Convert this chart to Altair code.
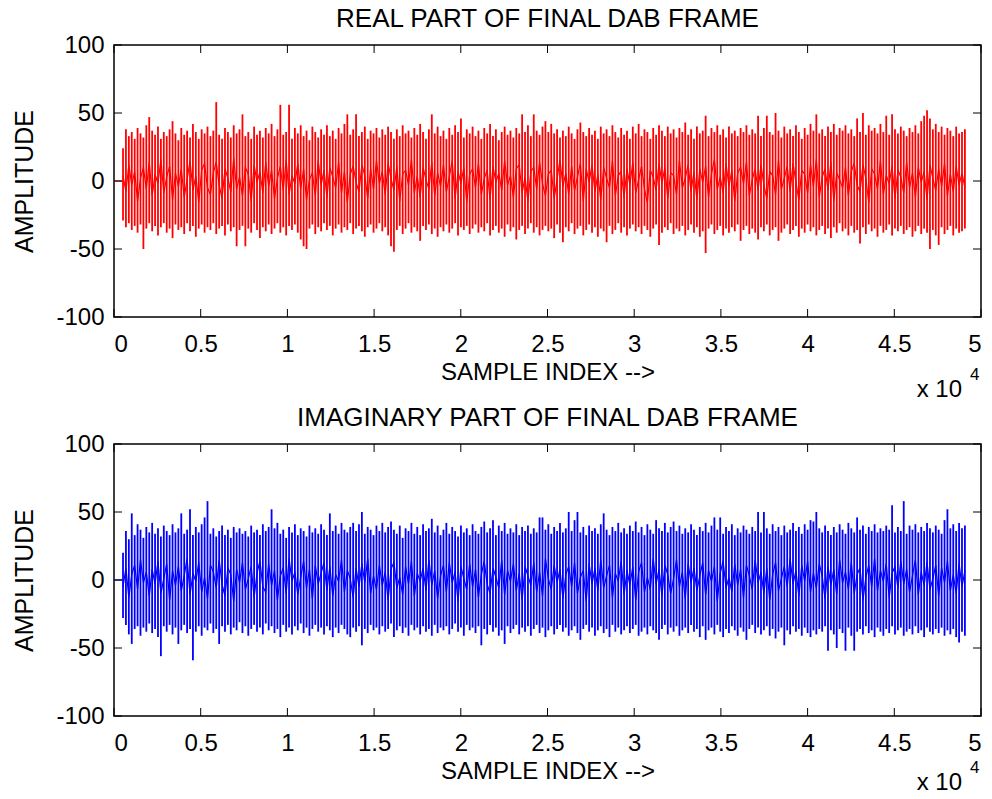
import altair as alt
import pandas as pd

TITLE_TOP = "REAL PART OF FINAL DAB FRAME"
TITLE_BOTTOM = "IMAGINARY PART OF FINAL DAB FRAME"
X_TITLE = "SAMPLE INDEX -->"
Y_TITLE = "AMPLITUDE"
X_TICKS = [0, 5000, 10000, 15000, 20000, 25000, 30000, 35000, 40000, 45000, 50000]
Y_TICKS = [-100, -50, 0, 50, 100]
LEAD_X = [0, 520]
LEAD_Y = [0, 0]
FIRST_SAMPLE = 520
SAMPLE_STEP = 168

RED_HI = [
    24, 38, 33, 36, 31, 39, 35, 32, 41, 47,
    37, 34, 40, 31, 36, 33, 38, 44, 35, 30,
    39, 34, 37, 32, 42, 36, 31, 38, 35, 40,
    33, 37, 58, 34, 31, 39, 36, 32, 41, 35,
    38, 49, 33, 36, 31, 40, 34, 37, 32, 39,
    35, 42, 33, 38, 56, 34, 36, 56, 31, 39,
    35, 41, 33, 37, 30, 40, 36, 32, 38, 34,
    41, 33, 37, 31, 39, 35, 42, 49, 34, 38,
    49, 33, 36, 40, 31, 37, 35, 39, 32, 38,
    34, 40, 36, 31, 38, 33, 41, 35, 37, 32,
    39, 34, 42, 36, 31, 38, 49, 35, 40, 33,
    37, 31, 39, 34, 41, 36, 46, 32, 38, 35,
    40, 33, 37, 31, 39, 35, 42, 33, 38, 30,
    36, 40, 34, 37, 32, 39, 35, 49, 36, 41,
    33, 49, 37, 34, 40, 44, 36, 42, 35, 38,
    32, 37, 33, 40, 35, 31, 38, 43, 36, 33,
    39, 34, 37, 31, 40, 35, 38, 33, 41, 36,
    32, 39, 34, 37, 31, 40, 35, 42, 33, 38,
    36, 31, 39, 34, 41, 37, 33, 40, 35, 38,
    32, 39, 36, 43, 34, 38, 31, 40, 35, 37,
    48, 33, 39, 36, 41, 34, 38, 32, 40, 35,
    37, 33, 39, 36, 41, 34, 38, 35, 48, 33,
    39, 48, 36, 34, 50, 37, 32, 40, 35, 38,
    33, 41, 36, 31, 39, 34, 42, 37, 49, 35,
    38, 33, 40, 36, 42, 34, 39, 37, 41, 35,
    38, 33, 46, 36, 50, 34, 41, 37, 39, 35,
    42, 36, 48, 34, 49, 38, 35, 40, 37, 33,
    39, 36, 41, 35, 44, 48, 52, 46, 38, 42,
    36, 40, 34, 39, 37, 33, 40, 35, 36, 38,
]
RED_LO = [
    -29, -34, -31, -36, -33, -38, -32, -50, -35, -31,
    -37, -33, -40, -34, -31, -38, -35, -42, -32, -36,
    -34, -39, -31, -37, -33, -41, -35, -32, -38, -34,
    -36, -31, -39, -35, -33, -40, -32, -37, -34, -48,
    -36, -33, -48, -35, -38, -31, -36, -42, -34, -37,
    -32, -39, -35, -31, -38, -34, -40, -33, -36, -32,
    -38, -43, -48, -50, -35, -32, -39, -34, -37, -31,
    -36, -33, -40, -35, -32, -38, -34, -36, -31, -39,
    -35, -33, -37, -41, -34, -32, -38, -35, -31, -37,
    -34, -40, -48, -52, -36, -33, -39, -35, -31, -38,
    -34, -37, -44, -33, -36, -32, -39, -35, -41, -34,
    -37, -32, -38, -35, -31, -40, -34, -36, -33, -39,
    -35, -32, -38, -34, -37, -31, -40, -36, -33, -38,
    -35, -41, -32, -37, -34, -43, -36, -33, -39, -35,
    -31, -38, -34, -40, -36, -33, -37, -35, -42, -32,
    -38, -45, -34, -37, -31, -39, -35, -33, -40, -36,
    -32, -38, -34, -41, -35, -37, -45, -33, -39, -36,
    -31, -38, -34, -40, -35, -32, -37, -34, -39, -33,
    -36, -41, -35, -32, -47, -38, -34, -36, -31, -39,
    -35, -37, -33, -40, -36, -32, -38, -34, -41, -37,
    -53, -35, -32, -39, -36, -33, -40, -35, -38, -34,
    -37, -32, -44, -36, -33, -39, -35, -38, -43, -34,
    -37, -32, -40, -36, -34, -44, -38, -35, -32, -39,
    -36, -33, -41, -35, -38, -32, -37, -34, -40, -36,
    -33, -39, -35, -42, -34, -38, -31, -37, -35, -40,
    -33, -38, -36, -46, -34, -39, -32, -37, -35, -41,
    -33, -38, -36, -32, -40, -35, -37, -33, -39, -36,
    -34, -41, -37, -33, -39, -35, -38, -50, -36, -40,
    -47, -34, -39, -36, -33, -40, -35, -38, -37, -35,
]
RED_MID = [
    4, -8, 12, -3, 7, -15, 2, 10, -6, 14,
    -11, 5, -2, 16, -9, 3, 11, -14, 6, -4,
    9, -12, 1, 15, -7, 4, -16, 8, 13, -5,
    -10, 6, 14, -3, -13, 9, 2, -8, 17, -6,
    3, -11, 10, 5, -15, 12, -1, 7, -9, 14,
    -4, 8, -13, 2, 11, -7, 16, -10, 4, -2,
    13, -6, 9, -14, 1, 6, -11, 15, -3, 8,
    -12, 10, 3, -5, 14, -9, 7, -16, 5, 11,
    -1, -8, 12, 4, -13, 9, -6, 15, -2, 7,
    -10, 13, 2, -7, 11, -15, 5, 8, -3, 16,
    -9, 4, -12, 10, 1, -6, 14, -11, 6, -4,
    12, -8, 3, 15, -13, 7, -2, 10, -16, 5,
    9, -5, 13, -10, 2, 8, -14, 11, -1, 6,
    -7, 15, -3, 4, -12, 9, 12, -9, 3, -15,
    7, 10, -6, 14, -2, -11, 5, 8, -13, 1,
    16, -4, 6, -10, 11, -7, 3, 13, -15, 9,
    -1, 12, -8, 5, -14, 10, 2, -5, 15, -11,
    4, 7, -12, 9, -3, 14, -9, 1, 11, -6,
    -16, 8, 3, -7, 13, -2, 10, -13, 6, 4,
    -10, 15, -5, 2, 12, -8, 7, -14, 9, -1,
    11, -12, 5, 16, -6, 3, -9, 13, -4, 8,
    -15, 6, 10, -2, 14, -11, 1, 9, -7, 12,
    -3, -13, 7, 4, -10, 15, -6, 2, 11, -8,
    13, -1, -14, 8, 5, -9, 12, -4, 16, -12,
    3, 9, -7, 14, -15, 6, 1, -5, 10, -11,
    7, 13, -3, -8, 12, 2, -16, 9, 5, -6,
    15, -10, 4, -2, 11, -13, 8, 3, -9, 14,
    -5, 6, -12, 10, -1, 7, -14, 12, 2, -7,
    9, -4, 13, -11, 5, -8, 11, -3, 6, -5,
]

BLUE_HI = [
    20, 36, 30, 49, 33, 41, 37, 31, 39, 35,
    42, 34, 38, 32, 40, 36, 33, 41, 35, 38,
    49, 34, 37, 52, 33, 39, 35, 41, 46, 58,
    34, 38, 32, 36, 40, 33, 37, 31, 39, 35,
    38, 34, 36, 32, 40, 35, 37, 33, 41, 36,
    39, 52, 38, 42, 34, 37, 31, 39, 35, 41,
    33, 38, 36, 32, 40, 35, 38, 34, 41, 37,
    33, 49, 36, 40, 34, 42, 37, 35, 39, 42,
    36, 41, 50, 34, 39, 37, 33, 40, 36, 42,
    35, 39, 43, 37, 34, 40, 31, 38, 36, 42,
    34, 39, 33, 41, 36, 38, 45, 35, 40, 33,
    37, 42, 34, 39, 36, 32, 40, 35, 38, 33,
    41, 36, 34, 39, 43, 35, 38, 44, 33, 40,
    36, 42, 34, 38, 35, 41, 33, 39, 36, 40,
    34, 38, 35, 46, 46, 37, 41, 34, 39, 36,
    42, 35, 38, 50, 36, 44, 50, 35, 39, 33,
    40, 36, 38, 34, 41, 49, 37, 33, 39, 36,
    42, 35, 38, 34, 40, 36, 43, 35, 39, 33,
    41, 37, 34, 44, 38, 36, 42, 35, 39, 43,
    36, 40, 34, 38, 35, 41, 37, 33, 39, 36,
    42, 35, 40, 46, 37, 46, 34, 39, 36, 41,
    33, 38, 35, 40, 37, 34, 39, 36, 50, 35,
    50, 38, 34, 41, 36, 39, 33, 40, 35, 37,
    42, 36, 39, 34, 41, 37, 44, 43, 50, 38,
    35, 40, 36, 33, 39, 35, 41, 37, 34, 42,
    38, 35, 46, 37, 40, 34, 39, 36, 41, 35,
    38, 36, 40, 37, 55, 35, 39, 36, 58, 34,
    40, 37, 41, 35, 39, 36, 42, 38, 35, 40,
    37, 34, 44, 52, 38, 41, 36, 42, 38, 40,
]
BLUE_LO = [
    -28, -33, -40, -47, -36, -34, -41, -35, -38, -32,
    -39, -36, -42, -56, -34, -38, -33, -40, -35, -47,
    -37, -33, -39, -36, -59, -38, -34, -41, -35, -37,
    -32, -39, -36, -47, -34, -38, -33, -40, -35, -37,
    -31, -39, -34, -41, -36, -33, -38, -35, -40, -32,
    -37, -34, -39, -36, -42, -33, -38, -35, -40, -34,
    -37, -32, -39, -35, -41, -36, -33, -38, -35, -40,
    -34, -37, -42, -35, -39, -33, -36, -40, -42, -35,
    -38, -34, -48, -36, -39, -33, -37, -35, -40, -34,
    -38, -36, -32, -42, -37, -34, -39, -35, -41, -33,
    -37, -35, -40, -34, -38, -36, -41, -33, -39, -35,
    -37, -34, -40, -36, -32, -38, -35, -41, -33, -37,
    -35, -39, -34, -48, -36, -40, -33, -38, -35, -41,
    -37, -47, -34, -39, -36, -33, -40, -35, -38, -34,
    -41, -36, -33, -39, -35, -42, -37, -34, -40, -36,
    -33, -38, -35, -41, -37, -34, -39, -44, -36, -33,
    -38, -35, -41, -37, -34, -39, -36, -42, -33, -38,
    -35, -40, -37, -34, -39, -36, -33, -41, -38, -35,
    -40, -34, -37, -39, -44, -36, -33, -40, -35, -38,
    -34, -41, -37, -35, -39, -33, -38, -36, -42, -34,
    -44, -37, -35, -40, -33, -38, -42, -36, -39, -34,
    -37, -41, -35, -38, -44, -36, -33, -39, -35, -40,
    -37, -34, -41, -36, -43, -38, -35, -48, -37, -40,
    -34, -38, -36, -41, -35, -39, -42, -37, -40, -36,
    -38, -34, -52, -37, -40, -50, -36, -39, -52, -35,
    -41, -52, -38, -36, -40, -34, -39, -37, -42, -35,
    -38, -41, -36, -39, -34, -40, -37, -35, -41, -38,
    -36, -40, -34, -39, -37, -42, -35, -38, -40, -36,
    -39, -35, -41, -37, -40, -36, -42, -46, -38, -41,
]
BLUE_MID = [
    -5, 9, -13, 4, 11, -7, 15, -2, 6, -12,
    8, -3, 14, -10, 1, 12, -15, 7, -4, 10,
    -8, 3, 16, -11, 5, -1, 13, -9, 2, -14,
    11, 6, -6, 15, -3, -12, 9, 4, -16, 8,
    -2, 13, -7, 1, 10, -13, 5, 14, -5, -9,
    12, -4, 7, -15, 3, 9, -10, 16, -1, 6,
    -11, 2, 14, -6, 8, -14, 11, -3, 5, 13,
    -8, 10, -12, 4, -1, 15, -9, 7, 1, -13,
    9, -5, 12, -2, 16, -10, 3, -7, 11, -4,
    6, -15, 8, 13, -6, 2, -11, 10, -3, 14,
    -12, 5, -1, 9, -8, 15, -4, 7, -14, 3,
    11, -9, 13, -2, 6, -16, 10, 1, -7, 12,
    -5, 8, -13, 4, 14, -3, -10, 9, 2, -6,
    15, -11, 7, -1, 12, -8, 5, -15, 10, 3,
    -4, 13, -9, 6, -12, 16, 1, -7, 11, -2,
    8, -14, 4, 10, -5, 13, -10, 2, 7, -16,
    12, -3, 9, -8, 15, -6, 3, 11, -13, 5,
    -1, 14, -11, 7, -4, 10, -15, 6, 13, -9,
    2, -7, 16, -3, 8, -12, 11, 4, -10, 1,
    15, -5, 6, -14, 12, -2, 9, -8, 3, 13,
    -11, 7, -1, 10, -16, 5, 14, -6, 2, -9,
    12, -4, 8, -13, 11, 3, -7, 15, -2, 6,
    -10, 9, -15, 4, 13, -8, 1, 10, -5, 16,
    -3, 7, -12, 11, -1, 14, -9, 5, -6, 12,
    3, -14, 10, -4, 8, -11, 15, -2, 6, -7,
    13, -10, 4, 9, -15, 2, 11, -5, 16, -8,
    7, -1, 12, -13, 5, 10, -6, 14, -3, 8,
    -9, 3, 15, -11, 6, -4, 13, -7, 1, 11,
    -12, 9, -2, 14, -8, 4, -10, 12, -5, 7,
]

FONT = "Liberation Sans"
W, H = 867, 272
TICK_LEN = 8


def panel(hi, lo, mid, color, title, exp_y):
    n = min(len(hi), len(lo), len(mid))
    xs = [FIRST_SAMPLE + i * SAMPLE_STEP for i in range(n)]
    cols = pd.DataFrame({"x": xs, "y": lo[:n], "y2": hi[:n]})
    mids = pd.DataFrame({"x": xs, "y": mid[:n]})
    lead = pd.DataFrame({"x": LEAD_X, "y": LEAD_Y})
    xt = pd.DataFrame({"x": X_TICKS})
    yt = pd.DataFrame({"y": Y_TICKS})

    xsc = alt.Scale(domain=[0, 50000], nice=False, zero=False)
    ysc = alt.Scale(domain=[-100, 100], nice=False, zero=False)

    x_axis = alt.Axis(values=X_TICKS, title=X_TITLE,
                      labelExpr="format(datum.value / 10000, '~g')",
                      labelPadding=15, titlePadding=4, titleFontSize=24)
    y_axis = alt.Axis(values=Y_TICKS, title=Y_TITLE,
                      labelExpr="'' + datum.value",
                      labelPadding=10, titlePadding=18, titleFontSize=25)

    def X():
        return alt.X("x:Q", scale=xsc, axis=x_axis)

    def Y():
        return alt.Y("y:Q", scale=ysc, axis=y_axis)

    columns = alt.Chart(cols).mark_rule(color=color, strokeWidth=1.8).encode(
        x=X(), y=Y(), y2="y2:Q",
    )
    mid_line = alt.Chart(mids).mark_line(color=color, strokeWidth=1.2).encode(
        x=X(), y=Y(),
    )
    lead_line = alt.Chart(lead).mark_line(color=color, strokeWidth=1.2).encode(
        x=X(), y=Y(),
    )
    xt_top = alt.Chart(xt).mark_rule(color="black", strokeWidth=1).encode(
        x=X(), y=alt.value(0), y2=alt.value(TICK_LEN),
    )
    xt_bot = alt.Chart(xt).mark_rule(color="black", strokeWidth=1).encode(
        x=X(), y=alt.value(H), y2=alt.value(H - TICK_LEN),
    )
    yt_left = alt.Chart(yt).mark_rule(color="black", strokeWidth=1).encode(
        y=Y(), x=alt.value(0), x2=alt.value(TICK_LEN),
    )
    yt_right = alt.Chart(yt).mark_rule(color="black", strokeWidth=1).encode(
        y=Y(), x=alt.value(W), x2=alt.value(W - TICK_LEN),
    )
    mult = alt.Chart(pd.DataFrame({"t": ["x 10"]})).mark_text(
        align="right", baseline="alphabetic", fontSize=24, font=FONT, color="black"
    ).encode(x=alt.value(848), y=alt.value(exp_y), text="t:N")
    expo = alt.Chart(pd.DataFrame({"t": ["4"]})).mark_text(
        align="left", baseline="alphabetic", fontSize=17, font=FONT, color="black"
    ).encode(x=alt.value(856), y=alt.value(exp_y - 17), text="t:N")

    return alt.layer(
        columns, mid_line, lead_line, xt_top, xt_bot, yt_left, yt_right, mult, expo
    ).properties(
        width=W, height=H,
        title=alt.Title(title, fontSize=26, font=FONT, fontWeight="normal",
                        color="black", baseline="bottom", offset=-25, frame="group"),
    )


top = panel(RED_HI, RED_LO, RED_MID, "#FF0000", TITLE_TOP, 352)
bottom = panel(BLUE_HI, BLUE_LO, BLUE_MID, "#0000FF", TITLE_BOTTOM, 346)

chart = alt.vconcat(top, bottom, spacing=127, bounds="flush").properties(
    padding={"left": 12, "top": 5, "right": 0, "bottom": 0},
    background="white",
).configure_view(
    stroke="#000000", strokeWidth=1.5
).configure_axis(
    grid=False, ticks=False, domain=False,
    labelFont=FONT, labelFontSize=24, labelColor="black",
    titleFont=FONT, titleFontWeight="normal", titleColor="black",
)

chart.save("out.html", embed_options={"renderer": "svg", "actions": False})
